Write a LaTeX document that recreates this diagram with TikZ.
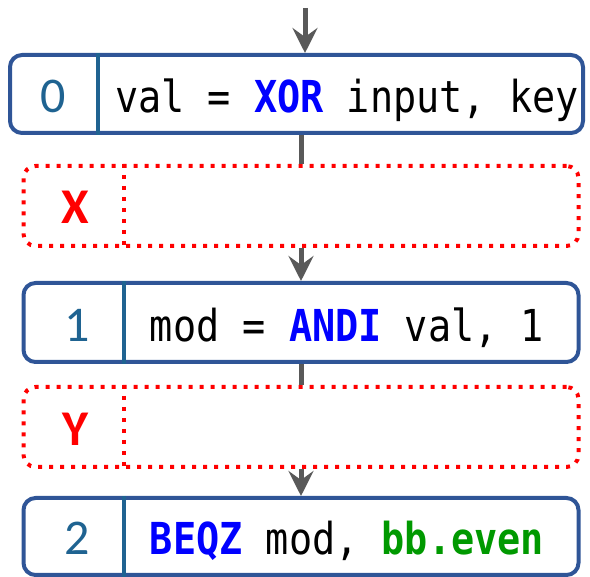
\documentclass[tikz,border=0pt]{standalone}
\usepackage{fontspec}
\usetikzlibrary{arrows.meta,calc}

\newfontfamily\codefont[FakeStretch=0.875]{DejaVu Sans Mono}
\newfontfamily\idxfont{Carlito}

\definecolor{boxblue}{HTML}{2F5597}
\definecolor{idxblue}{HTML}{1F6391}
\definecolor{kwblue}{HTML}{0000FF}
\definecolor{bbgreen}{HTML}{009900}
\definecolor{flowgray}{HTML}{595959}

\newcommand{\kw}[1]{\textcolor{kwblue}{\bfseries #1}}
\newcommand{\bbname}[1]{\textcolor{bbgreen}{\bfseries #1}}

\tikzset{
  instr/.style={draw=boxblue, line width=4pt, rounded corners=12pt, minimum width=555pt, minimum height=78pt, inner sep=0pt},
  slot/.style={draw=red, line width=4pt, dash pattern=on 4pt off 7pt, rounded corners=12pt, minimum width=555pt, minimum height=80pt, inner sep=0pt},
  sep/.style={line width=4pt, idxblue},
  slotsep/.style={line width=4pt, red, dash pattern=on 4pt off 7pt},
  idx/.style={font=\idxfont\fontsize{50}{50}\selectfont, text=idxblue, anchor=base},
  hole/.style={font=\idxfont\bfseries\fontsize{50}{50}\selectfont, text=red, anchor=base},
  code/.style={font=\codefont\fontsize{44}{44}\selectfont, anchor=base},
  flow/.style={draw=flowgray, line width=5pt},
  flowarrow/.style={flow, -{Stealth[length=25pt,width=25pt,inset=9pt]}}
}

\begin{document}
\begin{tikzpicture}[x=1pt,y=-1pt]
\useasboundingbox (0,0) rectangle (590,577);

% Boxes
\node[instr, minimum width=573pt] (b0) at (296.5,94) {};
\node[slot] (bx) at (301,206) {};
\node[instr, minimum height=79pt] (b1) at (301,322.5) {};
\node[slot] (by) at (301,427) {};
\node[instr, minimum height=77pt] (b2) at (301,536.5) {};

% Dividers
\draw[sep] ([xshift=90pt]b0.north west) -- ([xshift=90pt]b0.south west);
\draw[slotsep] ([xshift=102pt]bx.north west) -- ([xshift=102pt]bx.south west);
\draw[sep] ([xshift=102pt]b1.north west) -- ([xshift=102pt]b1.south west);
\draw[slotsep] ([xshift=102pt]by.north west) -- ([xshift=102pt]by.south west);
\draw[sep] ([xshift=102pt]b2.north west) -- ([xshift=102pt]b2.south west);

% Index labels
\node[idx] (n0) at (53,113) {0};
\node[hole] (nx) at (75.5,224) {X};
\node[idx] (n1) at (77,342) {1};
\node[hole] (ny) at (75.5,446) {Y};
\node[idx] (n2) at (77,555) {2};

% Instructions
\node[code] (c0) at (347,113) {val = \kw{XOR} input, key};
\node[code] (c1) at (347,342) {mod = \kw{ANDI} val, 1};
\node[code] (c2) at (347,555) {\kw{BEQZ} mod, \bbname{bb.even}};

% Flow
\coordinate (entry) at (305,8);
\draw[flowarrow] (entry) -- (entry |- b0.north);
\draw[flow] (bx.north |- b0.south) -- (bx.north);
\draw[flowarrow] (bx.south) -- (b1.north);
\draw[flow] (b1.south) -- (by.north);
\draw[flowarrow] (by.south) -- (b2.north);
\end{tikzpicture}
\end{document}
